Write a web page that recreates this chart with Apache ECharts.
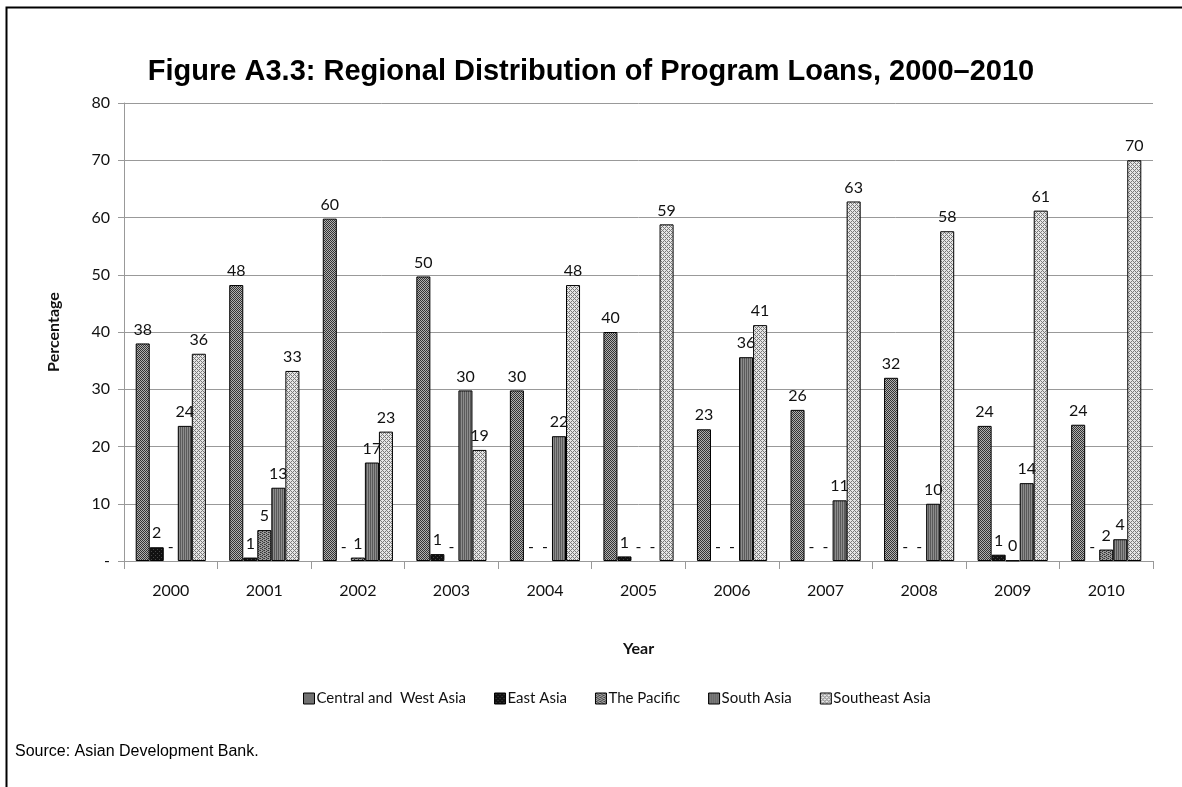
<!DOCTYPE html>
<html>
<head>
<meta charset="utf-8">
<title>Regional Distribution of Program Loans</title>
<script src="https://cdn.jsdelivr.net/npm/echarts@6/dist/echarts.min.js"></script>
<style>
  html, body { margin: 0; padding: 0; background: #fff; }
  #chart { width: 1182px; height: 787px; }
</style>
</head>
<body>
<div id="chart"></div>
<script>
// Program loans by region, share of total (%)
const years = ['2000', '2001', '2002', '2003', '2004', '2005', '2006', '2007', '2008', '2009', '2010'];
const centralWestAsia = [38, 48.2, 59.8, 49.7, 29.8, 40, 23, 26.4, 32, 23.6, 23.8];
const eastAsia        = [2.4, 0.6, 0, 1.2, 0, 0.8, 0, 0, 0, 1.1, 0];
const thePacific      = [0, 5.4, 0.6, 0, 0, 0, 0, 0, 0, 0.1, 2];
const southAsia       = [23.6, 12.8, 17.2, 29.8, 21.8, 0, 35.6, 10.6, 10, 13.6, 3.8];
const southeastAsia   = [36.2, 33.2, 22.6, 19.4, 48.2, 58.8, 41.2, 62.8, 57.6, 61.2, 70];
const yTicks = [0, 10, 20, 30, 40, 50, 60, 70, 80];

// small tiled fills for the bars
function tile(w, h, draw) {
  const c = document.createElement('canvas');
  c.width = w; c.height = h;
  const g = c.getContext('2d');
  draw(g, w, h);
  return { image: c, repeat: 'repeat' };
}
function px(g, color, cells) {
  g.fillStyle = color;
  cells.forEach(([x, y]) => g.fillRect(x, y, 1, 1));
}
const fillCentral = tile(4, 4, (g) => {
  g.fillStyle = '#b0b0b0'; g.fillRect(0, 0, 4, 4);
  px(g, '#333', [[0,0],[2,0],[1,1],[3,1],[0,2],[2,2],[1,3],[3,3]]);
});
const fillEast = tile(4, 4, (g) => {
  g.fillStyle = '#111'; g.fillRect(0, 0, 4, 4);
  px(g, '#444', [[1,1],[3,3]]);
});
const fillPacific = tile(4, 4, (g) => {
  g.fillStyle = '#9a9a9a'; g.fillRect(0, 0, 4, 4);
  px(g, '#333', [[0,0],[0,2],[2,1],[2,3]]);
  px(g, '#555', [[1,0],[3,2]]);
});
const fillSouth = tile(4, 4, (g) => {
  g.fillStyle = '#8c8c8c'; g.fillRect(0, 0, 4, 4);
  g.fillStyle = '#5a5a5a'; g.fillRect(0, 0, 1, 4); g.fillRect(2, 0, 1, 4);
});
const fillSoutheast = tile(4, 4, (g) => {
  g.fillStyle = '#e6e6e6'; g.fillRect(0, 0, 4, 4);
  px(g, '#7a7a7a', [[0,0],[1,1],[2,2],[3,3],[3,1],[1,3]]);
});

const labelFmt = (p) => (p.value === 0 ? '-' : String(Math.round(p.value)));
const textFont = 'Lato, "Noto Sans", sans-serif';

function barSeries(name, values, fill) {
  // empty shares keep their "-" label but draw no outline
  const data = values.map((v) => (v === 0 ? { value: 0, itemStyle: { borderWidth: 0 } } : v));
  return {
    name: name,
    type: 'bar',
    data: data,
    barGap: '0%',
    barCategoryGap: '25%',
    itemStyle: { color: fill, borderColor: '#000', borderWidth: 1 },
    label: {
      show: true,
      position: 'top',
      distance: 6,
      formatter: labelFmt,
      color: '#111',
      fontSize: 16,
      fontFamily: textFont
    },
    emphasis: { disabled: true }
  };
}

const chart = echarts.init(document.getElementById('chart'), null, { renderer: 'canvas' });
chart.setOption({
  animation: false,
  backgroundColor: '#fff',
  title: {
    text: 'Figure A3.3: Regional Distribution of Program Loans, 2000\u20132010',
    left: 'center',
    top: 52,
    textStyle: { fontFamily: '"Liberation Sans", Arial, sans-serif', fontWeight: 'bold', fontSize: 29, color: '#000' }
  },
  legend: {
    bottom: 76,
    left: 298,
    itemWidth: 11,
    itemHeight: 11,
    itemGap: 28,
    icon: 'rect',
    itemStyle: { borderColor: '#000', borderWidth: 1 },
    textStyle: { fontFamily: textFont, fontSize: 15, color: '#111', padding: [0, 0, 0, -3] },
    data: ['Central and  West Asia', 'East Asia', 'The Pacific', 'South Asia', 'Southeast Asia']
  },
  grid: { left: 124, right: 29, top: 103, bottom: 226, containLabel: false },
  xAxis: {
    type: 'category',
    data: years,
    name: 'Year',
    nameLocation: 'middle',
    nameGap: 80,
    nameTextStyle: { fontFamily: textFont, fontWeight: 'bold', fontSize: 16, color: '#111' },
    axisLine: { lineStyle: { color: '#999', width: 1 } },
    axisTick: { show: true, length: 8, lineStyle: { color: '#999' } },
    axisLabel: { fontFamily: textFont, fontSize: 16, color: '#111', margin: 22 }
  },
  yAxis: {
    type: 'value',
    min: yTicks[0],
    max: yTicks[yTicks.length - 1],
    interval: 10,
    name: 'Percentage',
    nameLocation: 'middle',
    nameGap: 62,
    nameRotate: 90,
    nameTextStyle: { fontFamily: textFont, fontWeight: 'bold', fontSize: 16, color: '#111' },
    axisLine: { show: true, lineStyle: { color: '#999', width: 1 } },
    axisTick: { show: true, length: 6, lineStyle: { color: '#999' } },
    splitLine: { lineStyle: { color: '#999', width: 1 } },
    axisLabel: {
      fontFamily: textFont, fontSize: 16, color: '#111', margin: 14,
      formatter: (v) => (v === 0 ? '-' : String(v))
    }
  },
  series: [
    barSeries('Central and  West Asia', centralWestAsia, fillCentral),
    barSeries('East Asia', eastAsia, fillEast),
    barSeries('The Pacific', thePacific, fillPacific),
    barSeries('South Asia', southAsia, fillSouth),
    barSeries('Southeast Asia', southeastAsia, fillSoutheast)
  ],
  graphic: [
    {
      type: 'rect',
      shape: { x: 6.5, y: 7.5, width: 1200, height: 800 },
      style: { fill: 'none', stroke: '#000', lineWidth: 2 },
      silent: true
    },
    {
      type: 'text',
      left: 15,
      top: 744,
      style: { text: 'Source: Asian Development Bank.', font: '16px "Liberation Sans", Arial, sans-serif', fill: '#000' },
      silent: true
    }
  ]
});
</script>
</body>
</html>
